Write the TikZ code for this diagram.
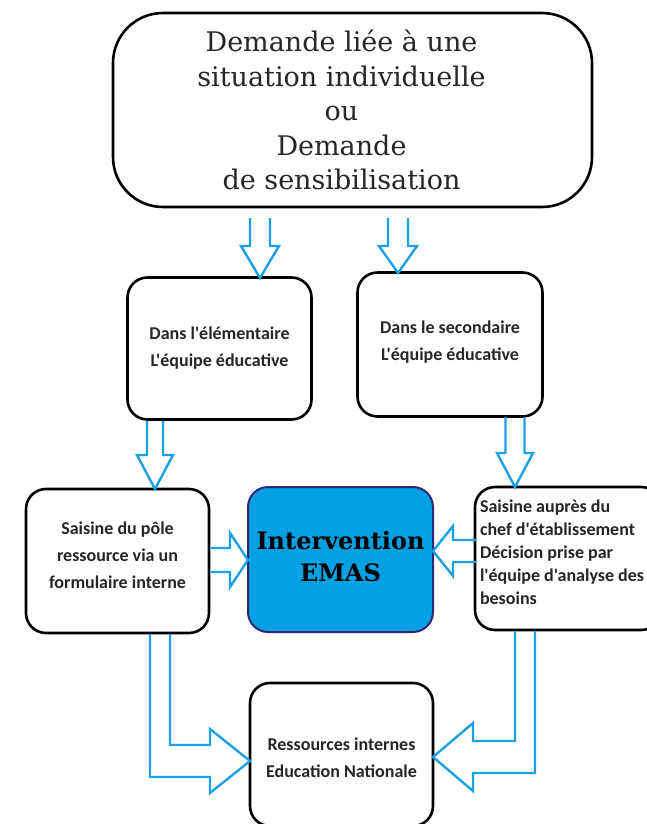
\documentclass[tikz,border=0pt]{standalone}
\usepackage{fontspec}
\newfontfamily\calib{Carlito}
\newfontfamily\dvserif{DejaVu Serif}
\usetikzlibrary{calc}
\definecolor{arrowblue}{RGB}{27,161,226}
\definecolor{emasblue}{RGB}{0,160,227}
\definecolor{emasborder}{RGB}{46,40,120}
\newcommand\dn[1]{\rule[-#1]{0pt}{#1}}
\newcommand\ls{\kern22pt}
\newcommand\downblock[5]{\draw[barrow] let \p1=(#1),\p2=(#2) in (\x1-#3,\y1) -- (\x1-#3,\y2+#5) -- (\x1-#4,\y2+#5) -- (\x2,\y2) -- (\x1+#4,\y2+#5) -- (\x1+#3,\y2+#5) -- (\x1+#3,\y1);}
\newcommand\rightblock[5]{\draw[barrow] let \p1=(#1),\p2=(#2) in (\x1,\y1-#3) -- (\x2-#5,\y1-#3) -- (\x2-#5,\y2-#4) -- (\x2,\y2) -- (\x2-#5,\y2+#4) -- (\x2-#5,\y1+#3) -- (\x1,\y1+#3);}
\newcommand\leftblock[5]{\draw[barrow] let \p1=(#1),\p2=(#2) in (\x1,\y1-#3) -- (\x2+#5,\y1-#3) -- (\x2+#5,\y2-#4) -- (\x2,\y2) -- (\x2+#5,\y2+#4) -- (\x2+#5,\y1+#3) -- (\x1,\y1+#3);}
\begin{document}
\begin{tikzpicture}[x=1pt,y=-1pt,
  box/.style={draw=black, line width=2.6pt, rounded corners=20pt, fill=white, align=center, inner sep=0pt},
  sanstext/.style={font=\calib\bfseries\fontsize{18}{27}\selectfont, text=black!85},
  barrow/.style={draw=arrowblue, line width=2.4pt, line join=miter}]
\clip (0,0) rectangle (647,824);
\useasboundingbox (0,0) rectangle (647,824);
\fill[white] (0,0) rectangle (647,824);

\node[box, rounded corners=50pt, minimum width=479pt, minimum height=194pt,
  font=\dvserif\fontsize{27}{34.5}\selectfont, text=black!85] (top) at (352.5,110)
  {Demande liée à une\ls\\situation individuelle\ls\\ou\ls\\Demande\ls\\de sensibilisation\ls};

\node[box, sanstext, minimum width=184pt, minimum height=142pt] (elem) at (219.5,348.5)
  {Dans l'élémentaire\\L'équipe éducative};
\node[box, sanstext, minimum width=185pt, minimum height=144pt] (second) at (450,344.5)
  {Dans le secondaire\\L'équipe éducative\dn{7pt}};

\node[box, sanstext, minimum width=183pt, minimum height=144pt] (lbox) at (117.5,561)
  {Saisine du pôle\\ressource via un\\formulaire interne\dn{12pt}};
\node[box, draw=emasborder, line width=2pt, fill=emasblue, minimum width=185pt, minimum height=145pt,
  font=\dvserif\bfseries\fontsize{24}{32}\selectfont] (emas) at (340.5,559.5)
  {Intervention\\EMAS\dn{6pt}};
\node[box, sanstext, font=\calib\bfseries\fontsize{18}{23}\selectfont, align=flush left, text width=176pt,
  inner xsep=5pt, minimum height=143pt] (rbox) at (568,558.5)
  {Saisine auprès du\\chef d'établissement\\Décision prise par\\l'équipe d'analyse des\\besoins\dn{12pt}};

\node[box, sanstext, minimum width=183pt, minimum height=143pt] (bot) at (341.5,754.5)
  {\rule{0pt}{19pt}Ressources internes\\Education Nationale};

% arrow end points
\coordinate (a1s) at (260,218); \coordinate (a1e) at (260,278);
\coordinate (a2s) at (398,218); \coordinate (a2e) at (398,273);
\coordinate (a3s) at (155,421); \coordinate (a3e) at (155,489);
\coordinate (a4s) at (515,417); \coordinate (a4e) at (515,487);
\coordinate (a5s) at (211,560); \coordinate (a5e) at (248,560);
\coordinate (a6s) at (476,551); \coordinate (a6e) at (433,551);
\coordinate (a7s) at (160,634); \coordinate (a7e) at (250,761);
\coordinate (a8s) at (525,631); \coordinate (a8e) at (433,757);

\downblock{a1s}{a1e}{10pt}{19pt}{32pt}
\downblock{a2s}{a2e}{10pt}{19pt}{27pt}
\downblock{a3s}{a3e}{8pt}{18pt}{34pt}
\downblock{a4s}{a4e}{9.5pt}{18pt}{34pt}
\rightblock{a5s}{a5e}{12pt}{27pt}{18pt}
\leftblock{a6s}{a6e}{11pt}{25pt}{20pt}

\draw[barrow] let \p1=(a7s),\p2=(a7e) in
  (\x1-10pt,\y1) -- (\x1-10pt,\y2-16pt) -- (\x2-40pt,\y2-16pt) -- (\x2-40pt,\y2-32pt) -- (\x2,\y2)
  -- (\x2-40pt,\y2+32pt) -- (\x2-40pt,\y2+16pt) -- (\x1+10pt,\y2+16pt) -- (\x1+10pt,\y1);
\draw[barrow] let \p1=(a8s),\p2=(a8e) in
  (\x1+10pt,\y1) -- (\x1+10pt,\y2-16pt) -- (\x2+40pt,\y2-16pt) -- (\x2+40pt,\y2-34pt) -- (\x2,\y2)
  -- (\x2+40pt,\y2+34pt) -- (\x2+40pt,\y2+16pt) -- (\x1-10pt,\y2+16pt) -- (\x1-10pt,\y1);
\end{tikzpicture}
\end{document}
